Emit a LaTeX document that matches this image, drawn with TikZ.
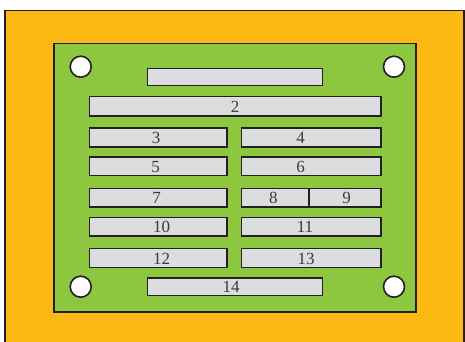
\documentclass[tikz,border=0pt]{standalone}
\usepackage{fontspec}
\setmainfont{Liberation Serif}
\definecolor{orng}{HTML}{FDB913}
\definecolor{grn}{HTML}{8DC63F}
\definecolor{barfill}{HTML}{DCDDDE}
\definecolor{edge}{HTML}{231F20}
\definecolor{txt}{HTML}{3A3A3A}
\begin{document}
\begin{tikzpicture}[x=1pt,y=-1pt,
  barbox/.style={draw=edge,fill=barfill,line width=1.6pt},
  hole/.style={draw=edge,fill=white,line width=1.6pt},
  lbl/.style={anchor=base,inner sep=0pt,text=txt,font=\fontsize{17}{17}\selectfont}]
\useasboundingbox (0,0) rectangle (465,342);
\fill[white] (0,0) rectangle (465,342);
% outer plate
\draw[edge,line width=1.6pt,fill=orng] (5,10.5) rectangle (464,350);
% green board
\draw[edge,line width=1.8pt,fill=grn] (54,43.5) rectangle (416,312);
% holes
\node[hole,circle,minimum size=21pt,inner sep=0pt] (h1) at (80.7,66.7) {};
\node[hole,circle,minimum size=21pt,inner sep=0pt] (h2) at (394,66.7) {};
\node[hole,circle,minimum size=21pt,inner sep=0pt] (h3) at (80.7,286.7) {};
\node[hole,circle,minimum size=21pt,inner sep=0pt] (h4) at (394,286.7) {};
% bars
\draw[barbox] (147.3,68.7) rectangle (322.3,85.7);
\draw[barbox] (89.3,96.7) rectangle (380.7,115.7);
\draw[barbox] (89.3,128) rectangle (226.7,147);
\draw[barbox] (241.3,128) rectangle (380.7,147);
\draw[barbox] (89.3,157) rectangle (226.7,175.5);
\draw[barbox] (241.3,157) rectangle (380.7,175.5);
\draw[barbox] (89.3,188.3) rectangle (226.7,206.7);
\draw[barbox] (241.3,188.3) rectangle (380.7,206.7);
\draw[edge,line width=1.6pt] (308.7,188.3) -- (308.7,206.7);
\draw[barbox] (89.3,217.3) rectangle (226.7,235.7);
\draw[barbox] (241.3,217.3) rectangle (380.7,235.7);
\draw[barbox] (89.3,248.3) rectangle (226.7,267.3);
\draw[barbox] (241.3,248.3) rectangle (380.7,267.3);
\draw[barbox] (147.3,277.7) rectangle (322.3,295.3);
% labels
\node[lbl] (l2) at (235,112.5) {2};
\node[lbl] (l3) at (156,143.8) {3};
\node[lbl] (l4) at (300.7,143.8) {4};
\node[lbl] (l5) at (155.5,172.3) {5};
\node[lbl] (l6) at (300.5,172.3) {6};
\node[lbl] (l7) at (156.7,203.3) {7};
\node[lbl] (l8) at (273.3,203.3) {8};
\node[lbl] (l9) at (346.7,203.3) {9};
\node[lbl] (l10) at (161.7,232.5) {10};
\node[lbl] (l11) at (305,232.5) {11};
\node[lbl] (l12) at (161.7,264) {12};
\node[lbl] (l13) at (306,264) {13};
\node[lbl] (l14) at (231,292.3) {14};
\end{tikzpicture}
\end{document}
